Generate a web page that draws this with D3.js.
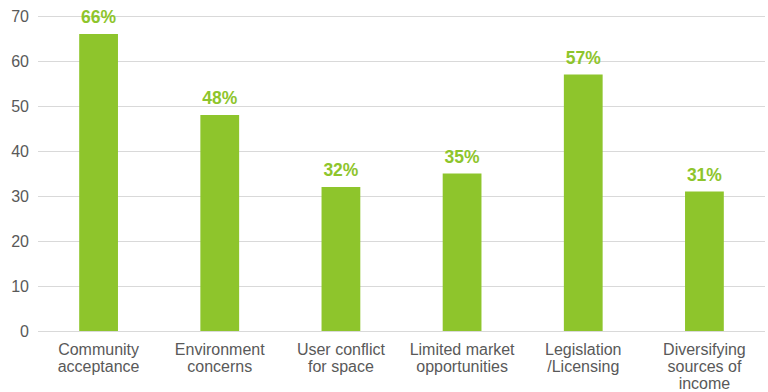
<!DOCTYPE html>
<html>
<head>
<meta charset="utf-8">
<script src="https://cdn.jsdelivr.net/npm/d3@7"></script>
<style>
  body { margin: 0; background: #fff; }
  svg { display: block; font-family: "Liberation Sans", Arial, sans-serif; }
</style>
</head>
<body>
<script>
var categories = ['Community\nacceptance', 'Environment\nconcerns', 'User conflict\nfor space',
  'Limited market\nopportunities', 'Legislation\n/Licensing', 'Diversifying\nsources of\nincome']
var values = [66, 48, 32, 35, 57, 31]
var yTicks = [0, 10, 20, 30, 40, 50, 60, 70]

var width = 768
var height = 392
var margin = { left: 38, right: 3, top: 16, bottom: 61 }
var innerWidth = width - margin.left - margin.right
var innerHeight = height - margin.top - margin.bottom

var green = '#8ec52c'

var svg = d3.select('body').append('svg').attr('width', width).attr('height', height)
var g = svg.append('g').attr('transform', `translate(${margin.left},${margin.top})`)

var xScale = d3.scaleBand().domain(categories).range([0, innerWidth]).paddingInner(0.68).paddingOuter(0.34)
var yScale = d3.scaleLinear().domain([0, 70]).range([innerHeight, 0])

// gridlines
g.selectAll('.grid').data(yTicks).enter().append('line')
  .attr('x1', 0).attr('x2', innerWidth)
  .attr('y1', d => yScale(d) + 0.5).attr('y2', d => yScale(d) + 0.5)
  .attr('stroke', '#d9d9d9').attr('stroke-width', 1)

// y axis labels
var yAxis = d3.axisLeft(yScale).tickValues(yTicks).tickSize(0).tickPadding(9)
var yg = g.append('g').call(yAxis)
yg.select('.domain').remove()
yg.selectAll('text').attr('fill', '#595959').style('font-size', '16px').attr('font-family', null)

// bars
g.selectAll('rect').data(values).enter().append('rect')
  .attr('x', (d, i) => xScale(categories[i]))
  .attr('y', d => yScale(d))
  .attr('width', xScale.bandwidth())
  .attr('height', d => innerHeight - yScale(d))
  .attr('fill', green)

// value labels
g.selectAll('.val').data(values).enter().append('text')
  .attr('x', (d, i) => xScale(categories[i]) + xScale.bandwidth() / 2)
  .attr('y', d => yScale(d) - 11)
  .attr('text-anchor', 'middle')
  .attr('fill', green)
  .style('font-size', '17.5px').style('font-weight', 'bold')
  .text(d => d + '%')

// x axis labels
var xAxis = d3.axisBottom(xScale).tickSize(0).tickFormat('')
var xg = g.append('g').attr('transform', `translate(0,${innerHeight})`).call(xAxis)
xg.select('.domain').remove()
xg.selectAll('.tick').each(function (d) {
  var t = d3.select(this).append('text')
    .attr('text-anchor', 'middle').attr('fill', '#595959').style('font-size', '16px')
  d.split('\n').forEach((line, j) => {
    t.append('tspan').attr('x', 0).attr('y', 24 + j * 17).text(line)
  })
})
</script>
</body>
</html>
